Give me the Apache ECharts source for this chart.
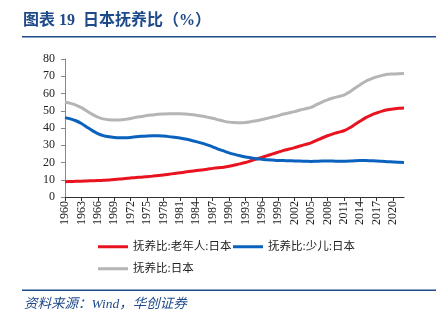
<!DOCTYPE html>
<html><head><meta charset="utf-8">
<script src="https://cdn.jsdelivr.net/npm/echarts@6/dist/echarts.min.js"></script>
<style>html,body{margin:0;padding:0;background:#fff}#c{width:448px;height:325px}</style>
</head><body><div id="c"></div>
<script>
var years = [];
for (var y = 1960; y <= 2022; y++) years.push(String(y));

var elderly = [8.9,9.0,9.1,9.2,9.3,9.4,9.5,9.7,9.9,10.2,10.4,10.7,11.0,11.3,11.5,11.8,12.1,12.5,12.8,13.2,13.6,14.0,14.5,14.9,15.3,15.7,16.1,16.6,17.0,17.3,17.8,18.5,19.2,20.0,21.0,22.0,23.0,24.0,25.0,26.0,27.0,27.8,28.6,29.6,30.5,31.4,32.8,34.2,35.5,36.6,37.5,38.4,40.0,42.0,44.0,46.0,47.5,48.7,49.8,50.6,51.0,51.4,51.6];
var youth = [46.0,45.3,44.2,42.6,40.5,38.5,36.8,35.6,34.9,34.5,34.3,34.3,34.5,34.9,35.2,35.4,35.5,35.5,35.3,35.0,34.6,34.2,33.6,32.9,32.1,31.2,30.2,29.1,27.8,26.7,25.6,24.7,23.9,23.2,22.7,22.2,21.9,21.6,21.4,21.2,21.1,21.0,20.9,20.8,20.7,20.6,20.7,20.8,20.8,20.8,20.7,20.7,20.8,21.0,21.1,21.1,21.0,20.9,20.7,20.5,20.3,20.1,20.0];
var total = [54.9,54.3,53.3,51.8,49.8,47.9,46.3,45.3,44.8,44.7,44.7,45.0,45.5,46.2,46.7,47.2,47.6,48.0,48.1,48.2,48.2,48.2,48.1,47.8,47.4,46.9,46.3,45.7,44.8,44.0,43.4,43.2,43.1,43.2,43.7,44.2,44.9,45.6,46.4,47.2,48.1,48.8,49.5,50.4,51.2,52.0,53.5,55.0,56.3,57.4,58.2,59.1,60.8,63.0,65.1,67.1,68.5,69.6,70.5,71.1,71.3,71.5,71.6];

var seriesNames = ['抚养比:老年人:日本', '抚养比:少儿:日本', '抚养比:日本'];
var titleText = '图表 19  日本抚养比（%）';
var sourceText = '资料来源：Wind，华创证券';

var navy = '#1F4A8A';
var serif = '"Liberation Serif", "Noto Sans CJK SC", serif';
var cjk = '"Liberation Serif", "Noto Sans CJK SC", serif';

var chart = echarts.init(document.getElementById('c'), null, {renderer: 'canvas'});
function legendItem(name, left, top) {
  return {
    data: [name], left: left, top: top, orient: 'horizontal',
    icon: 'rect', itemWidth: 30, itemHeight: 3, itemGap: 6, padding: 0,
    textStyle: {fontFamily: cjk, fontSize: 11.5, color: '#222'},
    selectedMode: false
  };
}
chart.setOption({
  animation: false,
  grid: {left: 65, right: 44, top: 59, bottom: 128, containLabel: false},
  graphic: [
    {type: 'text', left: 23, top: 13, style: {text: titleText, font: 'bold 16px ' + cjk, fill: navy}},
    {type: 'rect', shape: {x: 22, y: 36, width: 414, height: 1.6}, style: {fill: navy}},
    {type: 'rect', shape: {x: 22, y: 289.5, width: 414, height: 1.6}, style: {fill: navy}},
    {type: 'text', left: 24, top: 298, style: {text: sourceText, font: 'italic 13.5px ' + cjk, fill: navy}}
  ],
  legend: [
    legendItem(seriesNames[0], 98, 241),
    legendItem(seriesNames[1], 233, 241),
    legendItem(seriesNames[2], 98, 263)
  ],
  xAxis: {
    type: 'category', data: years, boundaryGap: false,
    axisLine: {lineStyle: {color: '#333', width: 1}},
    axisTick: {interval: 2, length: 4, lineStyle: {color: '#333'}},
    axisLabel: {interval: 2, rotate: 90, fontFamily: serif, fontSize: 12, color: '#222', margin: 4}
  },
  yAxis: {
    type: 'value', min: 0, max: 80, interval: 10,
    axisLine: {show: true, lineStyle: {color: '#888', width: 1}},
    axisTick: {show: true, length: 4, lineStyle: {color: '#888'}},
    splitLine: {show: false},
    axisLabel: {fontFamily: serif, fontSize: 12, color: '#222', margin: 10}
  },
  series: [
    {name: seriesNames[0], type: 'line', data: elderly, smooth: 0.3, showSymbol: false, lineStyle: {color: '#E8131F', width: 3}, itemStyle: {color: '#E8131F'}},
    {name: seriesNames[1], type: 'line', data: youth, smooth: 0.3, showSymbol: false, lineStyle: {color: '#0A62BE', width: 3}, itemStyle: {color: '#0A62BE'}},
    {name: seriesNames[2], type: 'line', data: total, smooth: 0.3, showSymbol: false, lineStyle: {color: '#B5B5B5', width: 3}, itemStyle: {color: '#B5B5B5'}}
  ]
});
</script></body></html>
